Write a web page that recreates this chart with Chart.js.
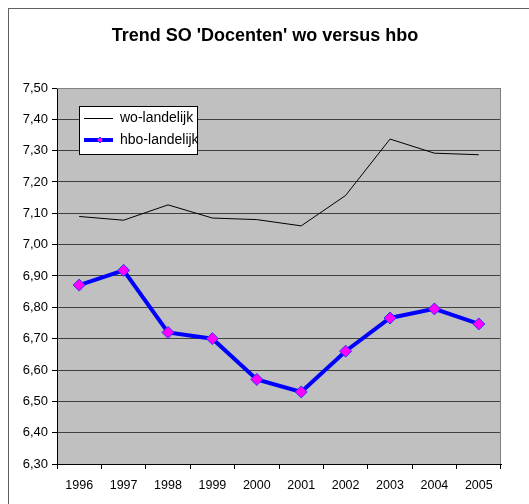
<!DOCTYPE html>
<html>
<head>
<meta charset="utf-8">
<script src="https://cdn.jsdelivr.net/npm/chart.js@4"></script>
<style>
  html, body { margin: 0; padding: 0; background: #fff; }
  #wrap { width: 529px; height: 504px; }
</style>
</head>
<body>
<div id="wrap"><canvas id="trendChart" width="529" height="504"></canvas></div>
<script>
const years = ['1996', '1997', '1998', '1999', '2000', '2001', '2002', '2003', '2004', '2005'];
const woLandelijk = [7.09, 7.078, 7.127, 7.085, 7.08, 7.06, 7.157, 7.337, 7.292, 7.287];
const hboLandelijk = [6.871, 6.918, 6.72, 6.70, 6.57, 6.53, 6.66, 6.766, 6.795, 6.747];
const chartTitle = "Trend SO 'Docenten' wo versus hbo";

const font = 'Arial, "Liberation Sans", sans-serif';

// achtergrond, rand en titel zoals in Excel
const excelFrame = {
    id: 'excelFrame',
    beforeDraw(chart) {
        const ctx = chart.ctx;
        const a = chart.chartArea;
        ctx.save();
        ctx.fillStyle = '#fff';
        ctx.fillRect(0, 0, chart.width, chart.height);
        ctx.strokeStyle = '#606060';
        ctx.lineWidth = 1;
        ctx.strokeRect(8.5, 8.5, 600, 600);
        ctx.fillStyle = '#c0c0c0';
        ctx.fillRect(a.left, a.top, a.right - a.left, a.bottom - a.top);
        ctx.fillStyle = '#000';
        ctx.font = 'bold 18px ' + font;
        ctx.textAlign = 'center';
        ctx.textBaseline = 'middle';
        ctx.fillText(chartTitle, 265, 36);
        ctx.restore();
    },
    afterDatasetsDraw(chart) {
        const ctx = chart.ctx;
        const a = chart.chartArea;
        ctx.save();
        // bovenrand en rechterrand van het plotvlak
        ctx.strokeStyle = '#808080';
        ctx.lineWidth = 1;
        ctx.beginPath();
        ctx.moveTo(a.left, a.top + 0.5);
        ctx.lineTo(a.right - 0.5, a.top + 0.5);
        ctx.lineTo(a.right - 0.5, a.bottom);
        ctx.stroke();

        // legenda
        const x = 79.5, y = 106.5, w = 118, h = 48;
        ctx.fillStyle = '#fff';
        ctx.fillRect(x, y, w, h);
        ctx.strokeStyle = '#000';
        ctx.strokeRect(x, y, w, h);
        ctx.font = '14px ' + font;
        ctx.textBaseline = 'middle';
        ctx.textAlign = 'left';
        const ds = chart.data.datasets;
        // wo
        ctx.strokeStyle = ds[0].borderColor;
        ctx.lineWidth = 1;
        ctx.beginPath();
        ctx.moveTo(84, 118.5);
        ctx.lineTo(113, 118.5);
        ctx.stroke();
        ctx.fillStyle = '#000';
        ctx.fillText(ds[0].label, 120, 118);
        // hbo
        ctx.strokeStyle = ds[1].borderColor;
        ctx.lineWidth = 4;
        ctx.beginPath();
        ctx.moveTo(84, 140);
        ctx.lineTo(113, 140);
        ctx.stroke();
        ctx.fillStyle = ds[1].pointBackgroundColor;
        ctx.strokeStyle = ds[1].pointBorderColor;
        ctx.lineWidth = 1;
        ctx.beginPath();
        ctx.moveTo(100, 137);
        ctx.lineTo(103, 140);
        ctx.lineTo(100, 143);
        ctx.lineTo(97, 140);
        ctx.closePath();
        ctx.fill();
        ctx.stroke();
        ctx.fillStyle = '#000';
        ctx.fillText(ds[1].label, 120, 140);
        ctx.restore();
    }
};

new Chart(document.getElementById('trendChart'), {
    type: 'line',
    plugins: [excelFrame],
    data: {
        labels: years,
        datasets: [{
            label: 'wo-landelijk',
            data: woLandelijk,
            borderColor: '#000',
            borderWidth: 1,
            pointRadius: 0,
            tension: 0,
        }, {
            label: 'hbo-landelijk',
            data: hboLandelijk,
            borderColor: '#0000ff',
            borderWidth: 4,
            pointStyle: 'rectRot',
            pointRadius: 6,
            pointBackgroundColor: '#ff00ff',
            pointBorderColor: '#3030ff',
            pointBorderWidth: 1,
            tension: 0,
        }],
    },
    options: {
        responsive: false,
        animation: false,
        devicePixelRatio: 1,
        layout: {
            padding: { top: 88, right: 28, left: 0, bottom: 0 }
        },
        plugins: {
            legend: { display: false },
            title: { display: false },
            tooltip: { enabled: false },
        },
        scales: {
            x: {
                offset: true,
                afterFit: (scale) => { scale.height = 40; },
                grid: {
                    offset: true,
                    drawOnChartArea: false,
                    drawTicks: true,
                    tickLength: 5,
                    tickColor: '#000',
                },
                border: { color: '#000', width: 1 },
                ticks: {
                    color: '#000',
                    font: { family: font, size: 12.5 },
                    padding: 9,
                    maxRotation: 0,
                    autoSkip: false,
                },
            },
            y: {
                min: 6.3,
                max: 7.5,
                afterFit: (scale) => { scale.width = 57; },
                grid: {
                    color: '#404040',
                    tickColor: '#000',
                    tickLength: 5,
                },
                border: { color: '#000', width: 1 },
                ticks: {
                    stepSize: 0.1,
                    color: '#000',
                    font: { family: font, size: 13 },
                    padding: 4,
                    callback: (value) => Number(value).toFixed(2).replace('.', ','),
                },
            },
        },
    },
});
</script>
</body>
</html>
